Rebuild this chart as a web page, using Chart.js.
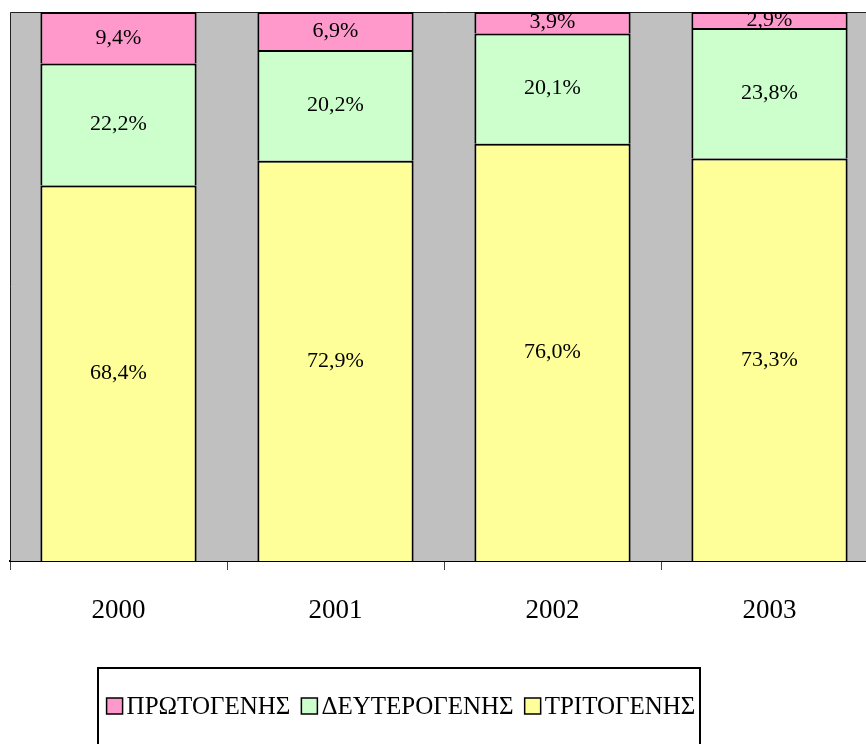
<!DOCTYPE html>
<html>
<head>
<meta charset="utf-8">
<script src="https://cdn.jsdelivr.net/npm/chart.js@4.4.1/dist/chart.umd.min.js"></script>
<style>
  html, body { margin: 0; padding: 0; overflow: hidden; background: #fff; }
  #wrap { width: 886px; height: 744px; position: relative; }
</style>
</head>
<body>
<div id="wrap"><canvas id="sectors"></canvas></div>
<script>
const years = ['2000', '2001', '2002', '2003'];
const primary = [9.4, 6.9, 3.9, 2.9];
const secondary = [22.2, 20.2, 20.1, 23.8];
const tertiary = [68.4, 72.9, 76.0, 73.3];
const seriesNames = ['ΠΡΩΤΟΓΕΝΗΣ', 'ΔΕΥΤΕΡΟΓΕΝΗΣ', 'ΤΡΙΤΟΓΕΝΗΣ'];

const serif = "'Liberation Serif', 'Times New Roman', serif";

// gray plot area with thin frame
const plotFrame = {
    id: 'plotFrame',
    beforeDatasetsDraw(chart) {
        const { ctx, chartArea: a } = chart;
        ctx.save();
        ctx.fillStyle = '#c0c0c0';
        ctx.fillRect(a.left, a.top, a.right - a.left, a.bottom - a.top);
        ctx.strokeStyle = '#222';
        ctx.lineWidth = 1;
        ctx.beginPath();
        ctx.moveTo(a.left + 0.5, a.bottom);
        ctx.lineTo(a.left + 0.5, a.top + 0.5);
        ctx.lineTo(a.right, a.top + 0.5);
        ctx.stroke();
        ctx.restore();
    }
};

// percentage labels in the middle of each segment
const segmentLabels = {
    id: 'segmentLabels',
    afterDatasetsDraw(chart) {
        const { ctx } = chart;
        ctx.save();
        ctx.font = '22px ' + serif;
        ctx.fillStyle = '#000';
        ctx.textAlign = 'center';
        ctx.textBaseline = 'middle';
        chart.data.datasets.forEach((ds, i) => {
            chart.getDatasetMeta(i).data.forEach((bar, j) => {
                const txt = ds.data[j].toFixed(1).replace('.', ',') + '%';
                ctx.fillText(txt, bar.x, (bar.y + bar.base) / 2);
            });
        });
        ctx.restore();
    }
};

// boxed legend under the axis, top series first
const boxLegend = {
    id: 'boxLegend',
    afterDraw(chart) {
        const { ctx } = chart;
        const boxL = 98, boxR = 700, boxT = 668;
        const sq = 16, gapSq = 4, gapItem = 11, midY = 706;
        ctx.save();
        ctx.strokeStyle = '#000';
        ctx.lineWidth = 2;
        ctx.strokeRect(boxL, boxT, boxR - boxL, 120);
        ctx.font = '25px ' + serif;
        ctx.textBaseline = 'middle';
        const items = chart.data.datasets.slice().reverse().map(ds => ({
            label: ds.label, color: ds.backgroundColor,
            w: ctx.measureText(ds.label).width
        }));
        const total = items.reduce((s, it) => s + sq + gapSq + it.w, 0) + gapItem * (items.length - 1);
        let x = (boxL + boxR) / 2 - total / 2 + 2;
        items.forEach(it => {
            ctx.fillStyle = it.color;
            ctx.fillRect(x, midY - sq / 2, sq, sq);
            ctx.lineWidth = 1.5;
            ctx.strokeRect(x, midY - sq / 2, sq, sq);
            ctx.fillStyle = '#000';
            ctx.fillText(it.label, x + sq + gapSq, midY + 1);
            x += sq + gapSq + it.w + gapItem;
        });
        ctx.restore();
    }
};

function barSet(label, data, color) {
    return {
        label: label,
        data: data,
        backgroundColor: color,
        borderColor: '#000',
        borderWidth: 2,
        borderSkipped: 'start',
        barPercentage: 0.72,
        categoryPercentage: 1
    };
}

new Chart(document.getElementById('sectors'), {
    type: 'bar',
    data: {
        labels: years,
        // stacked bottom to top
        datasets: [
            barSet(seriesNames[2], tertiary, '#ffff99'),
            barSet(seriesNames[1], secondary, '#ccffcc'),
            barSet(seriesNames[0], primary, '#ff99cc')
        ]
    },
    options: {
        responsive: true,
        maintainAspectRatio: false,
        animation: false,
        layout: { padding: { left: 10, top: 12, right: 8, bottom: 0 } },
        plugins: { legend: { display: false }, tooltip: { enabled: false } },
        scales: {
            x: {
                stacked: true,
                grid: { drawOnChartArea: false, tickLength: 9, color: '#444', offset: true },
                border: { color: '#000', width: 2 },
                ticks: { color: '#000', font: { family: serif, size: 27 }, padding: 25 },
                afterFit(scale) { scale.height = 183; }
            },
            y: {
                stacked: true,
                display: false,
                min: 0,
                max: 100
            }
        }
    },
    plugins: [plotFrame, segmentLabels, boxLegend]
});
</script>
</body>
</html>
